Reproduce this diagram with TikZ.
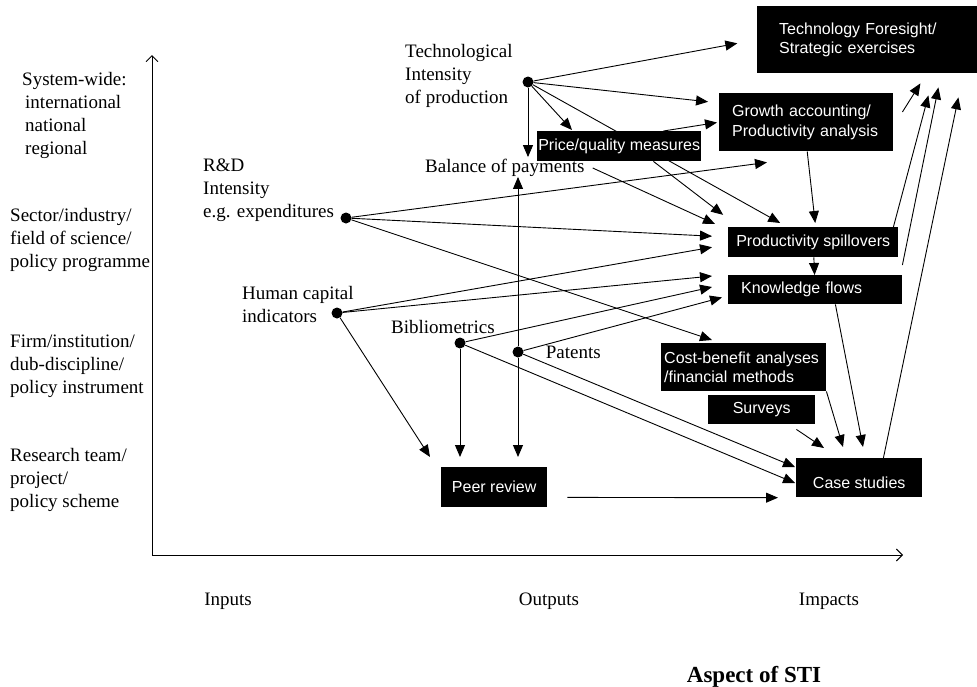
\documentclass[tikz,border=0pt]{standalone}
\usepackage{fontspec}
\setmainfont{Liberation Serif}
\setsansfont{Liberation Sans}
\usetikzlibrary{arrows.meta}
\usetikzlibrary{positioning}
\pgfdeclarelayer{background}
\pgfsetlayers{background,main}
\newcommand\lblfont{\fontsize{19}{23}\selectfont}
\newcommand\boxtxt{\sffamily\fontsize{16}{19.5}\selectfont}

\begin{document}
\begin{tikzpicture}[x=1pt,y=-1pt,
  dot/.style={circle,fill,inner sep=0pt,minimum size=11pt},
  lbl/.style={font=\lblfont,align=left,inner sep=0pt,anchor=west},
  blackbox/.style={fill=black,text=white,font=\boxtxt,inner sep=0pt,anchor=north west,align=left},
  arr/.style={-{Triangle[length=12pt,width=10pt]},line width=0.9pt},
  axis/.style={-{Straight Barb[length=6pt,width=12pt]},line width=0.9pt}]
  \useasboundingbox (0,0) rectangle (977,686);
  % axes
  \coordinate (origin) at (152,555);
  \coordinate (ytop) at (152,55);
  \coordinate (xend) at (903,555);
  \draw[axis] (origin) -- (ytop);
  \draw[axis] (origin) -- (xend);
  % levels
  \node[lbl] (sysw) at (22,115) {System-wide:\\\hspace*{3pt}international\\\hspace*{3pt}national\\\hspace*{3pt}regional};
  \node[lbl] (sect) at (10,240) {Sector/industry/\\field of science/\\policy programme};
  \node[lbl] (firm) at (10,366) {Firm/institution/\\dub-discipline/\\policy instrument};
  \node[lbl] (team) at (10,480) {Research team/\\project/\\policy scheme};
  \node[lbl,anchor=center] (inputs) at (228,601) {Inputs};
  \node[lbl,anchor=center] (outputs) at (549,601) {Outputs};
  \node[lbl,anchor=center] (impacts) at (829,601) {Impacts};
  \node[lbl,anchor=center,font=\fontsize{23}{27}\selectfont\bfseries] (aspect) at (754,677) {Aspect of STI};
  % indicators
  \node[dot] (tech) at (528,82) {};
  \node[dot] (rd) at (346,218) {};
  \node[dot] (human) at (337,313) {};
  \node[dot] (biblio) at (460,343) {};
  \node[dot] (pat) at (518,352) {};
  \node[lbl] (techtxt) at (405,75.5) {Technological\\Intensity\\of production};
  \node[lbl] (rdtxt) at (203,190) {R\&D\\Intensity\\e.g. expenditures};
  \node[lbl] (humantxt) at (242,304.5) {Human capital\\indicators};
  \node[lbl] (bibliotxt) at (391,327) {Bibliometrics};
  \node[lbl,right=22pt of pat] (pattxt) {Patents};
  \node[lbl] (bop) at (425,168) {Balance of payments};
  % methods
  \node[blackbox,minimum width=220pt,minimum height=67pt,text width=176pt] (fore) at (757,6) {Technology Foresight/\\Strategic exercises};
  \node[blackbox,minimum width=174pt,minimum height=58pt,text width=148pt] (growth) at (719,93) {Growth accounting/\\Productivity analysis};
  \node[blackbox,minimum width=164pt,minimum height=30pt] (price) at (537,131) {Price/quality measures};
  \node[blackbox,minimum width=170pt,minimum height=30pt] (spill) at (728,227) {Productivity spillovers};
  \node[blackbox,minimum width=174pt,minimum height=29pt,text width=148pt] (know) at (728,275) {Knowledge flows};
  \node[blackbox,minimum width=165pt,minimum height=48pt,text width=159pt] (cost) at (661,343) {Cost-benefit analyses\\/financial methods};
  \node[blackbox,minimum width=107pt,minimum height=29pt] (surveys) at (708,395) {Surveys};
  \node[blackbox,minimum width=126pt,minimum height=39pt] (case) at (796,458) {\raisebox{-11pt}[0pt][0pt]{Case studies}};
  \node[blackbox,minimum width=106pt,minimum height=40pt] (peer) at (441,467) {Peer review};
  \begin{pgfonlayer}{background}
  % from technological intensity
  \draw[arr,shorten >=20pt] (tech) -- (fore.west);
  \draw[arr,shorten >=11pt] (tech) -- ([yshift=-10pt]growth.north west);
  \draw[arr] (tech) -- ([xshift=35pt,yshift=1pt]price.north west);
  \draw[arr,shorten >=2pt] (tech) -- (tech |- bop.north);
  \draw[arr] (tech) -- ([xshift=-33pt,yshift=4pt]spill.north);
  \draw[arr,shorten >=2pt] ([xshift=-38pt]price.north east) -- (growth.west);
  \draw[arr,shorten >=20pt] ([xshift=-48pt]price.south east) -- ([xshift=11pt]spill.north west);
  \draw[arr] ([xshift=8pt]bop.east) -- ([xshift=-13pt,yshift=3pt]spill.north west);
  % from R&D
  \draw[arr] (rd) -- ([xshift=48pt,yshift=-11pt]growth.south west);
  \draw[arr] (rd) -- ([xshift=-16pt,yshift=6pt]spill.west);
  \draw[arr] (rd) -- ([xshift=51pt,yshift=3pt]cost.north west);
  % from human capital
  \draw[arr] (human) -- ([xshift=-16pt,yshift=-5pt]spill.west);
  \draw[arr] (human) -- ([xshift=-16pt,yshift=-1pt]know.north west);
  \draw[arr] (human) -- ([xshift=-11pt,yshift=10pt]peer.north west);
  % from bibliometrics and patents
  \draw[arr] (biblio) -- ([xshift=-16pt,yshift=-12pt]know.north west);
  \draw[arr,shorten >=10pt] (biblio) -- (biblio |- peer.north);
  \draw[arr,shorten >=1pt] (biblio) -- ([yshift=14pt]case.south west);
  \draw[arr] (pat) -- (pat |- bop.south);
  \draw[arr,shorten >=10pt] (pat) -- (pat |- peer.north);
  \draw[arr] (pat) -- ([xshift=-6pt,yshift=7pt]know.south west);
  \draw[arr] (pat) -- ([xshift=-1pt,yshift=-9pt]case.north west);
  % between methods
  \draw[arr] ([xshift=1pt]growth.south) -- ([xshift=2pt,yshift=4pt]spill.north);
  \draw[arr] ([xshift=9pt,yshift=-19pt]growth.north east) -- ([xshift=-57pt,yshift=-10pt]fore.south east);
  \draw[arr] (spill) -- (know);
  \draw[arr] ([xshift=-5pt]spill.north east) -- ([xshift=-49pt,yshift=-22pt]fore.south east);
  \draw[arr] ([yshift=10pt]know.north east) -- ([xshift=-39pt,yshift=-14pt]fore.south east);
  \draw[arr] ([xshift=-67pt]know.south east) -- ([xshift=67pt,yshift=11pt]case.north west);
  \draw[arr] ([xshift=-39pt]case.north east) -- ([xshift=-19pt,yshift=-24pt]fore.south east);
  \draw[arr] (cost.south east) -- ([xshift=47pt,yshift=11pt]case.north west);
  \draw[arr] ([xshift=-19pt,yshift=-5pt]surveys.south east) -- ([xshift=28pt,yshift=10pt]case.north west);
  \draw[arr,shorten >=18pt] ([xshift=20pt,yshift=10pt]peer.south east) -- ([yshift=-20pt]case.west);
  \end{pgfonlayer}
\end{tikzpicture}
\end{document}
